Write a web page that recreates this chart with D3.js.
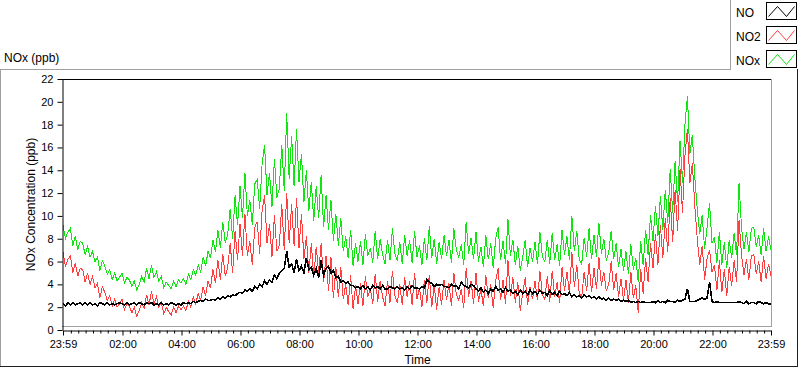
<!DOCTYPE html>
<html>
<head>
<meta charset="utf-8">
<script src="https://cdn.jsdelivr.net/npm/d3@7"></script>
<style>
  html, body { margin: 0; padding: 0; background: #ffffff; }
  svg { display: block; font-family: "Liberation Sans", Arial, sans-serif; }
</style>
</head>
<body>
<svg id="chart" width="800" height="369"></svg>
<script>
// ---------------- data (5-minute samples starting at 23:59) ----------------
const sampleStepMinutes = 5;
const seriesNames = ["NO", "NO2", "NOx"];
const seriesColors = ["#000000", "#ff3f3f", "#12e312"];

const noValues = [
  2.3, 2.1, 2.4, 2.2, 2.4, 2.2, 2.3, 2.4, 2.2, 2.4, 2.2, 2.4,
  2.2, 2.3, 2.1, 2.4, 2.3, 2.2, 2.4, 2.2, 2.3, 2.2, 2.3, 2.4,
  2.3, 2.2, 2.4, 2.2, 2.3, 2.4, 2.2, 2.4, 2.3, 2.2, 2.4, 2.3,
  2.4, 2.2, 2.3, 2.2, 2.4, 2.2, 2.3, 2.2, 2.4, 2.3, 2.2, 2.3,
  2.2, 2.4, 2.3, 2.4, 2.3, 2.5, 2.4, 2.5, 2.6, 2.5, 2.7, 2.6,
  2.6, 2.7, 2.6, 2.8, 2.7, 2.9, 2.8, 3.0, 2.9, 3.1, 3.0, 3.2,
  3.3, 3.2, 3.5, 3.4, 3.6, 3.4, 3.8, 3.6, 4.0, 3.8, 4.3, 4.0,
  4.4, 4.2, 4.8, 4.5, 5.0, 5.2, 5.4, 6.9, 5.5, 5.8, 5.0, 6.2,
  5.2, 5.6, 5.0, 6.3, 5.3, 5.5, 4.8, 5.4, 4.6, 6.1, 4.8, 5.4,
  5.6, 5.0, 5.2, 4.6, 4.7, 4.2, 4.3, 4.1, 4.2, 3.9, 3.9, 3.7,
  3.8, 3.6, 3.9, 3.6, 3.8, 3.5, 3.9, 3.7, 3.8, 3.6, 3.9, 3.6,
  3.6, 3.8, 3.7, 3.6, 3.8, 3.6, 3.7, 3.5, 3.8, 3.6, 3.9, 3.7,
  3.7, 3.6, 3.8, 3.7, 4.4, 4.2, 4.1, 3.8, 4.0, 3.9, 4.0, 3.8,
  3.8, 3.7, 4.0, 3.8, 3.9, 3.6, 4.2, 3.9, 3.8, 3.7, 4.0, 3.9,
  3.6, 3.4, 3.7, 3.3, 3.5, 3.2, 3.6, 3.4, 3.8, 3.5, 3.6, 3.3,
  3.7, 3.4, 3.5, 3.2, 3.4, 3.1, 3.5, 3.2, 3.4, 3.1, 3.5, 3.2,
  3.4, 3.1, 3.5, 3.2, 3.3, 3.0, 3.5, 3.1, 3.3, 3.0, 3.4, 3.1,
  3.2, 3.0, 3.3, 2.9, 3.1, 2.9, 3.0, 2.8, 3.1, 2.9, 3.0, 2.8,
  2.9, 2.7, 2.9, 2.7, 2.8, 2.6, 2.8, 2.6, 2.7, 2.6, 2.7, 2.5,
  2.6, 2.5, 2.6, 2.4, 2.5, 2.4, 2.5, 2.4, 2.5, 2.4, 2.4, 2.4,
  2.5, 2.4, 2.6, 2.4, 2.5, 2.4, 2.6, 2.5, 2.5, 2.4, 2.6, 2.5,
  2.6, 2.7, 3.6, 2.5, 2.5, 2.5, 2.6, 2.7, 2.8, 2.7, 2.8, 4.2,
  2.5, 2.4, 2.5, 2.4, 2.4, 2.4, 2.4, 2.4, 2.4, 2.4, 2.4, 2.5,
  2.4, 2.3, 2.5, 2.3, 2.4, 2.4, 2.3, 2.5, 2.4, 2.3, 2.4, 2.3,
  2.3
];

const no2Values = [
  6.8, 5.6, 6.2, 6.5, 5.0, 5.9, 4.7, 5.4, 5.3, 4.2, 5.0, 4.0,
  4.7, 3.7, 4.1, 2.8, 3.8, 3.3, 2.6, 3.0, 2.1, 2.7, 2.0, 2.3,
  2.7, 1.8, 2.3, 2.1, 1.5, 2.0, 1.2, 1.7, 2.4, 1.9, 3.1, 2.2,
  3.4, 2.3, 2.9, 2.0, 2.4, 1.4, 2.0, 1.6, 1.3, 2.0, 1.5, 2.1,
  1.8, 2.1, 1.7, 2.5, 2.0, 2.9, 2.3, 3.2, 2.6, 3.8, 3.0, 4.3,
  3.7, 5.3, 4.1, 6.1, 4.4, 6.7, 4.7, 5.5, 7.6, 5.0, 8.7, 6.1,
  9.3, 6.5, 10.2, 6.5, 7.8, 5.7, 9.0, 9.5, 6.7, 10.5, 11.8, 7.6,
  9.3, 6.4, 10.1, 6.9, 7.4, 11.0, 7.0, 12.0, 7.6, 11.0, 7.4, 11.6,
  7.2, 10.2, 6.2, 8.2, 5.0, 7.6, 4.6, 7.3, 5.0, 7.6, 4.2, 6.5,
  3.4, 6.4, 2.8, 5.5, 2.9, 5.5, 2.7, 4.0, 2.2, 4.8, 1.8, 3.9,
  2.3, 4.1, 2.1, 4.7, 2.9, 3.6, 2.3, 4.9, 2.5, 4.3, 2.9, 2.1,
  4.3, 2.4, 5.2, 3.0, 2.4, 4.0, 2.2, 4.6, 2.9, 4.3, 2.2, 5.0,
  2.7, 3.7, 2.0, 4.4, 2.4, 4.8, 2.0, 3.9, 1.8, 3.8, 2.2, 4.4,
  2.6, 4.1, 2.1, 5.0, 3.1, 2.6, 3.6, 1.9, 5.4, 2.9, 4.3, 2.3,
  5.0, 2.5, 3.6, 2.1, 4.8, 2.8, 4.0, 1.9, 4.3, 5.4, 2.6, 4.4,
  2.3, 6.1, 3.0, 4.6, 2.4, 4.2, 1.7, 3.2, 4.6, 2.2, 3.8, 2.7,
  4.3, 2.6, 5.2, 3.1, 2.7, 4.7, 2.5, 5.2, 2.9, 4.2, 2.4, 5.5,
  3.4, 5.1, 3.2, 6.8, 3.8, 5.7, 3.2, 2.9, 5.1, 3.4, 5.9, 3.3,
  5.4, 3.6, 6.4, 3.9, 5.1, 3.4, 4.0, 6.0, 3.5, 5.0, 2.9, 4.5,
  2.6, 4.4, 2.4, 5.1, 2.8, 3.9, 1.5, 5.3, 3.2, 6.3, 4.2, 7.6,
  5.4, 8.4, 5.7, 9.2, 6.3, 9.8, 6.8, 11.6, 7.7, 12.3, 8.7, 14.1,
  10.3, 15.3, 17.6, 12.9, 14.6, 10.9, 8.0, 5.7, 7.4, 4.4, 6.3, 7.0,
  5.1, 5.7, 3.5, 6.1, 3.3, 5.3, 3.0, 5.5, 3.9, 6.1, 4.2, 9.6,
  6.6, 4.8, 6.2, 4.4, 6.5, 6.6, 4.9, 6.0, 4.2, 6.5, 4.5, 5.8,
  4.7
];

const noxValues = [
  9.2, 8.0, 8.6, 8.9, 7.4, 8.2, 7.0, 7.8, 7.6, 6.6, 7.3, 6.4,
  6.9, 6.0, 6.4, 5.2, 6.1, 5.6, 4.9, 5.3, 4.4, 5.0, 4.3, 4.6,
  5.0, 4.1, 4.6, 4.4, 3.8, 4.3, 3.5, 4.0, 4.7, 4.2, 5.4, 4.5,
  5.7, 4.6, 5.1, 4.3, 4.7, 3.7, 4.2, 3.9, 3.6, 4.3, 3.8, 4.4,
  4.1, 4.5, 4.0, 4.9, 4.4, 5.3, 4.8, 5.7, 5.1, 6.4, 5.6, 6.9,
  6.3, 7.9, 6.8, 8.8, 7.2, 9.5, 7.6, 8.4, 10.6, 8.0, 11.8, 9.2,
  12.6, 9.8, 13.8, 10.0, 11.4, 9.2, 12.8, 13.2, 10.6, 14.6, 16.2, 11.8,
  13.8, 10.8, 15.0, 11.6, 12.4, 16.2, 12.2, 19.0, 13.2, 17.0, 12.6, 17.6,
  13.0, 15.4, 11.2, 14.0, 10.4, 13.0, 9.6, 12.6, 9.8, 13.6, 9.0, 11.8,
  8.8, 11.4, 7.8, 10.2, 7.4, 9.8, 6.9, 8.2, 6.3, 8.8, 5.6, 7.6,
  6.0, 7.8, 5.7, 8.4, 6.5, 7.2, 5.9, 8.7, 6.2, 8.0, 6.6, 5.8,
  7.9, 6.1, 8.9, 6.7, 6.1, 7.7, 5.8, 8.3, 6.5, 7.9, 5.9, 8.7,
  6.4, 7.4, 5.7, 8.1, 6.1, 9.1, 6.3, 8.0, 5.8, 7.7, 6.2, 8.3,
  6.5, 7.9, 5.9, 8.9, 7.0, 6.4, 7.5, 5.7, 9.5, 6.7, 8.1, 6.2,
  8.6, 6.0, 7.3, 5.5, 8.3, 6.2, 7.6, 5.4, 8.0, 9.0, 6.1, 7.8,
  5.8, 9.7, 6.5, 7.9, 5.7, 7.4, 5.2, 6.4, 7.9, 5.5, 7.2, 6.0,
  7.7, 5.8, 8.6, 6.4, 6.0, 7.9, 5.8, 8.5, 6.1, 7.5, 5.6, 8.8,
  6.6, 8.2, 6.1, 10.0, 6.9, 8.7, 6.2, 5.8, 8.1, 6.4, 8.9, 6.2,
  8.3, 6.4, 9.4, 6.7, 8.0, 6.1, 6.8, 8.7, 6.2, 7.6, 5.5, 7.1,
  5.2, 6.9, 4.9, 7.5, 5.3, 6.3, 4.2, 7.8, 5.7, 8.8, 6.6, 10.1,
  7.8, 10.9, 8.2, 11.7, 8.8, 12.3, 9.4, 14.1, 10.3, 14.8, 11.2, 16.6,
  12.9, 18.0, 20.5, 15.4, 17.1, 13.4, 10.6, 8.4, 10.1, 7.1, 9.0, 11.1,
  7.6, 8.1, 5.9, 8.6, 5.7, 7.7, 5.4, 7.9, 6.3, 8.5, 6.6, 12.9,
  9.0, 7.1, 8.6, 6.8, 8.9, 9.0, 7.3, 8.3, 6.6, 8.9, 6.9, 8.2,
  7.0
];

const yTickValues = [0, 2, 4, 6, 8, 10, 12, 14, 16, 18, 20, 22];
const xTickLabels = ["23:59", "02:00", "04:00", "06:00", "08:00", "10:00", "12:00",
                     "14:00", "16:00", "18:00", "20:00", "22:00", "23:59"];
const chartTitle = "NOx (ppb)";
const yAxisTitle = "NOx Concentration (ppb)";
const xAxisTitle = "Time";

// ---------------- layout ----------------
const svg = d3.select("#chart");
const plot = { left: 62, right: 771, top: 79, bottom: 330 };
const totalMinutes = 1440;

const x = d3.scaleLinear().domain([0, totalMinutes]).range([plot.left + 1, plot.right]);
const y = d3.scaleLinear().domain([0, 22]).range([plot.bottom, plot.top]);

// minutes after the 23:59 start for a clock label
function minutesFromStart(label, idx) {
  if (idx === xTickLabels.length - 1) return totalMinutes;
  const [h, m] = label.split(":").map(Number);
  return ((h * 60 + m) - (23 * 60 + 59) + 1440) % 1440;
}
const majorTicks = xTickLabels.map((l, i) => minutesFromStart(l, i));
const minorTicks = d3.range(16, totalMinutes, 15).filter(m => !majorTicks.includes(m));

// outer panel
svg.append("rect").attr("x", 0).attr("y", 0).attr("width", 800).attr("height", 369).attr("fill", "#fff");
svg.append("line").attr("x1", 0).attr("x2", 730).attr("y1", 69.5).attr("y2", 69.5).attr("stroke", "#a0a0a0");
svg.append("line").attr("x1", 0.5).attr("x2", 0.5).attr("y1", 69).attr("y2", 367).attr("stroke", "#a0a0a0");
svg.append("line").attr("x1", 0).attr("x2", 798).attr("y1", 366.5).attr("y2", 366.5).attr("stroke", "#202020");
svg.append("line").attr("x1", 797.5).attr("x2", 797.5).attr("y1", 69).attr("y2", 367).attr("stroke", "#202020");
svg.append("line").attr("x1", 730.5).attr("x2", 730.5).attr("y1", 0).attr("y2", 70).attr("stroke", "#a0a0a0");

// title
svg.append("text").attr("x", 4).attr("y", 62).attr("font-size", 12).attr("fill", "#000").text(chartTitle);

// plot frame
svg.append("line").attr("x1", plot.left).attr("x2", plot.right + 1).attr("y1", plot.top + 0.5).attr("y2", plot.top + 0.5).attr("stroke", "#000");
svg.append("line").attr("x1", plot.right + 0.5).attr("x2", plot.right + 0.5).attr("y1", plot.top).attr("y2", 327).attr("stroke", "#a0a0a0");
svg.append("line").attr("x1", plot.left).attr("x2", plot.right + 1).attr("y1", 326.5).attr("y2", 326.5).attr("stroke", "#a0a0a0");

// data lines
const line = d3.line()
  .x((d, i) => x(i * sampleStepMinutes))
  .y(d => y(d));

svg.append("clipPath").attr("id", "clip")
  .append("rect").attr("x", plot.left + 1).attr("y", plot.top + 1)
  .attr("width", plot.right - plot.left - 1).attr("height", plot.bottom - plot.top);

const lines = svg.append("g").attr("clip-path", "url(#clip)");
[[noxValues, 2, 1], [no2Values, 1, 1], [noValues, 0, 1.6]].forEach(([vals, k, w]) => {
  lines.append("path")
    .datum(vals)
    .attr("d", line)
    .attr("fill", "none")
    .attr("stroke", seriesColors[k])
    .attr("stroke-width", w)
    .attr("stroke-linejoin", "miter")
    .attr("shape-rendering", "crispEdges");
});

// y axis
const yAxis = d3.axisLeft(y).tickValues(yTickValues).tickSize(5).tickPadding(4).tickSizeOuter(0);
const gy = svg.append("g").attr("transform", `translate(${plot.left + 0.5},0)`).call(yAxis);
gy.selectAll("text").attr("font-size", 11).attr("fill", "#000").attr("font-family", "Liberation Sans, Arial, sans-serif");
gy.selectAll("line").attr("stroke", "#000");
gy.select(".domain").attr("stroke", "#000");

// x axis (major)
const xAxis = d3.axisBottom(x).tickValues(majorTicks)
  .tickFormat((d, i) => xTickLabels[i]).tickSize(5).tickPadding(5).tickSizeOuter(0);
const gx = svg.append("g").attr("transform", `translate(0,${plot.bottom + 0.5})`).call(xAxis);
gx.selectAll("text").attr("font-size", 11).attr("fill", "#000").attr("font-family", "Liberation Sans, Arial, sans-serif");
gx.selectAll("line").attr("stroke", "#000");
gx.select(".domain").attr("stroke", "#000");

// x axis (minor)
const xMinor = d3.axisBottom(x).tickValues(minorTicks).tickFormat("").tickSize(3).tickSizeOuter(0);
const gm = svg.append("g").attr("transform", `translate(0,${plot.bottom + 0.5})`).call(xMinor);
gm.select(".domain").remove();
gm.selectAll("line").attr("stroke", "#000");

// axis titles
svg.append("text")
  .attr("transform", `translate(35,${(plot.top + plot.bottom) / 2}) rotate(-90)`)
  .attr("text-anchor", "middle").attr("font-size", 12).attr("fill", "#000")
  .text(yAxisTitle);
svg.append("text")
  .attr("x", (plot.left + plot.right) / 2 + 1).attr("y", 364)
  .attr("text-anchor", "middle").attr("font-size", 12).attr("fill", "#000")
  .text(xAxisTitle);

// legend
const legend = svg.append("g");
seriesNames.forEach((name, i) => {
  const top = 2 + i * 24;
  legend.append("text").attr("x", 736).attr("y", top + 15)
    .attr("font-size", 12).attr("fill", "#000").text(name);
  legend.append("rect").attr("x", 766.5).attr("y", top + 0.5)
    .attr("width", 30).attr("height", 17).attr("fill", "#fff").attr("stroke", "#000");
  const zig = [[2, 14], [11, 4], [20, 14], [28, 4]].map(([dx, dy]) => [766.5 + dx, top + 0.5 + dy]);
  legend.append("path").attr("d", d3.line()(zig))
    .attr("fill", "none").attr("stroke", seriesColors[i]).attr("stroke-width", 1);
});
</script>
</body>
</html>
